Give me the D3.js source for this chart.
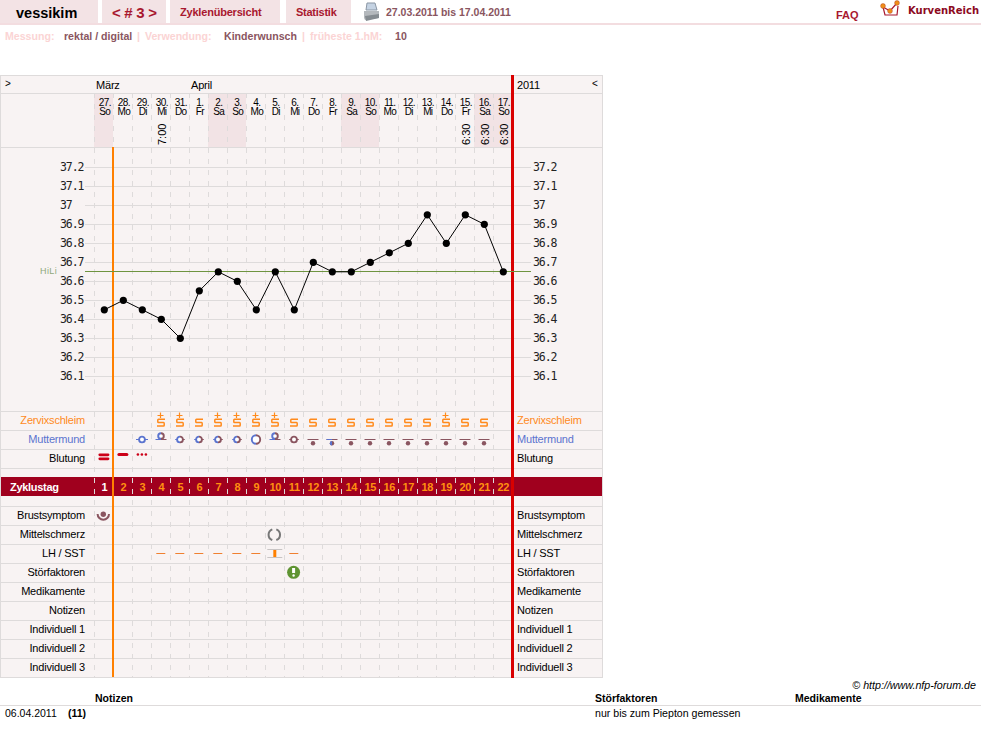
<!DOCTYPE html>
<html><head><meta charset="utf-8">
<script src="https://cdn.jsdelivr.net/npm/d3@7/dist/d3.min.js"></script>
<style>html,body{margin:0;padding:0;background:#fff}svg{display:block}text{font-family:"Liberation Sans",Arial,sans-serif}</style>
</head><body><div id="chart"></div>
<script>
// Cycle data: one entry per calendar day
const dayNumbers=["27.","28.","29.","30.","31.","1.","2.","3.","4.","5.","6.","7.","8.","9.","10.","11.","12.","13.","14.","15.","16.","17."];
const weekdays=["So","Mo","Di","Mi","Do","Fr","Sa","So","Mo","Di","Mi","Do","Fr","Sa","So","Mo","Di","Mi","Do","Fr","Sa","So"];
const measureTimes=[null,null,null,"7:00",null,null,null,null,null,null,null,null,null,null,null,null,null,null,null,"6:30","6:30","6:30"];
const temperatures=[36.45,36.5,36.45,36.4,36.3,36.55,36.65,36.6,36.45,36.65,36.45,36.7,36.65,36.65,36.7,36.75,36.8,36.95,36.8,36.95,36.9,36.65];
const tempTicks=[37.2,37.1,37,36.9,36.8,36.7,36.6,36.5,36.4,36.3,36.2,36.1];
const coverLine=36.65;
const cycleDays=d3.range(1,23);
const mucus=[0,0,0,2,2,1,2,2,2,2,1,1,1,1,1,1,1,1,2,1,1,0]; // 1 = S, 2 = S+
const cervix=[null,null,"open","high","low","low","low","low","wide","high","mid","firm","mixed","firm","firm","firm","firm","firm","firm","firm","firm",null];
const bleeding=[3,2,1,...Array(19).fill(0)];
const ovulationTests=[null,null,null,"n","n","n","n","n","n","p","n",...Array(11).fill(null)];
const upperRows=[["Zervixschleim","#ff8a1c"],["Muttermund","#5b74cf"],["Blutung","#000"]];
const lowerRows=["Brustsymptom","Mittelschmerz","LH / SST","Störfaktoren","Medikamente","Notizen","Individuell 1","Individuell 2","Individuell 3"];

const W=981,H=737,cw=19;
const svg=d3.select("#chart").append("svg").attr("width",W).attr("height",H).attr("viewBox",[0,0,W,H]);
const x=d3.scaleBand().domain(d3.range(22)).range([95,513]);
const cx=i=>x(i)+x.bandwidth()/2-0.2;
const y=d3.scaleLinear().domain([36.1,37.2]).range([376.3,167.3]);

const GRID="#dedbdb",BG="#f8f3f3",WE="#f2e3e5",ORANGE="#ff8000",RED="#d90000",BAND="#a0001e";
const text=(p,s,a,b,o={})=>p.append("text").attr("x",a).attr("y",b).text(s)
  .attr("font-size",o.size||11).attr("fill",o.fill||"#000").attr("text-anchor",o.anchor||"start")
  .attr("font-weight",o.weight||null).attr("font-style",o.style||null).attr("letter-spacing",o.ls||null);
const rect=(p,a,b,w,h,f)=>p.append("rect").attr("x",a).attr("y",b).attr("width",w).attr("height",h).attr("fill",f);
const hline=(p,a,b,yy,c,w=1)=>p.append("line").attr("x1",a).attr("x2",b).attr("y1",yy).attr("y2",yy).attr("stroke",c).attr("stroke-width",w);

// Page header
const head=svg.append("g");
[[0,98],[102,64],[170,110],[286,65]].forEach(d=>rect(head,d[0],0,d[1],23,"#f3e3e5"));
rect(head,0,23,W,2,"#f3dde0");
text(head,"vessikim",16,18,{size:14.5,weight:"bold"});
text(head,"< # 3 >",112,18,{size:15,weight:"bold",fill:"#a8182f",ls:-0.3});
text(head,"Zyklenübersicht",180,16,{size:11,weight:"bold",fill:"#a8182f",ls:-0.2});
text(head,"Statistik",296,16,{size:11,weight:"bold",fill:"#a8182f",ls:-0.25});
text(head,"27.03.2011 bis 17.04.2011",386,16,{size:10.5,weight:"bold",fill:"#8a5560"});
text(head,"FAQ",836,18.5,{size:11,weight:"bold",fill:"#a8182f"});
text(head,"KurvenReich",908,14,{size:10,weight:"bold",fill:"#8c0a1e"}).attr("style","font-family:'DejaVu Sans'");
// Printer icon
const pr=head.append("g").attr("transform","translate(364,3)");
pr.append("path").attr("d","M3 0L11 0L13 7L2 7Z").attr("fill","#c5d3e3").attr("stroke","#8b97a5");
pr.append("path").attr("d","M0 8L15 8L15 15L1 17L0 15Z").attr("fill","#b4b8bc");
pr.append("path").attr("d","M1 13L15 11L15 15L2 18Z").attr("fill","#858b90");
// Logo mark
const lg=head.append("g").attr("transform","translate(882,2)");
lg.append("path").attr("d","M1 5L3 13L15 13L16 4M1 5L8 9L15 1").attr("fill","none").attr("stroke","#a8182f").attr("stroke-width",1.2);
[[1,4],[8,9],[15,1]].forEach(d=>lg.append("circle").attr("cx",d[0]).attr("cy",d[1]).attr("r",2.4).attr("fill","#f09018").attr("stroke","#b5452a").attr("stroke-width",.5));

// Settings line
const meta=svg.append("g");
[["Messung:",5,"#fbd4d4"],["rektal / digital",64,"#8a5560"],["|",137,"#fbd4d4"],["Verwendung:",145,"#fbd4d4"],["Kinderwunsch",224,"#8a5560"],["|",302,"#fbd4d4"],["früheste 1.hM:",310,"#fbd4d4"],["10",395,"#8a5560"]]
  .forEach(d=>text(meta,d[0],d[1],40,{size:10.6,weight:"bold",fill:d[2]}));

// Chart panel and weekend shading
const panel=svg.append("g");
rect(panel,0,75,603,603,BG);
dayNumbers.forEach((d,i)=>{ if(weekdays[i]==="Sa"||weekdays[i]==="So") rect(panel,x(i)-1,93,x.bandwidth(),55,WE); });

// Row rules
const rowLines=[93,147.5,411,430,449,468,506,525,544,563,582,601,620,639,658];
const rules=svg.append("g");
rowLines.forEach(v=>hline(rules,0,603,Math.floor(v)+.5,GRID));
tempTicks.forEach(t=>hline(rules,85,531,Math.round(y(t))+.5,GRID));
rules.append("rect").attr("x",.5).attr("y",75.5).attr("width",602).attr("height",602).attr("fill","none").attr("stroke",GRID);

// Cycle-day band
rect(svg,1,477,601,19,BAND);

// Dashed day separators
const seps=svg.append("g");
d3.range(23).forEach(i=>{
  const xx=95+i*cw-.5;
  seps.append("line").attr("x1",xx).attr("x2",xx).attr("y1",93).attr("y2",677)
    .attr("stroke",GRID).attr("stroke-dasharray","5,6");
});

// Month row and corners
const monthRow=svg.append("g");
text(monthRow,">",5,87,{size:10});
text(monthRow,"März",96,89,{size:11,ls:-0.2});
text(monthRow,"April",191,89,{size:11,ls:-0.2});
text(monthRow,"2011",517,89,{size:11,ls:-0.2});
text(monthRow,"<",592,87,{size:10});

// Date headers
const hdr=svg.append("g").selectAll("g").data(dayNumbers).join("g").attr("transform",(d,i)=>`translate(${cx(i)+.5},0)`);
hdr.append("text").attr("y",105.5).attr("text-anchor","middle").attr("font-size",10).attr("letter-spacing",-0.6).text(d=>d);
hdr.append("text").attr("y",115).attr("text-anchor","middle").attr("font-size",10).attr("letter-spacing",-0.6).text((d,i)=>weekdays[i]);
hdr.each(function(d,i){
  if(measureTimes[i]) d3.select(this).append("text").attr("transform","translate(4,145) rotate(-90)").attr("font-size",11).text(measureTimes[i]);
});

// Temperature scale, both sides
const ticks=svg.append("g");
tempTicks.forEach(t=>{
  const s=String(t);
  [60,533].forEach(a=>{
    ticks.append("text").attr("x",a).attr("y",y(t)+4).text(s).attr("font-size",11.5).attr("letter-spacing",-1.1).attr("fill","#222")
      .attr("style","font-family:'DejaVu Sans Mono'");
  });
});

// Vertical cycle markers
const mark=svg.append("g");
rect(mark,112,147,2,530,ORANGE);
rect(mark,511,75,3,603,RED);

// Coverline
hline(svg,85,531,Math.floor(y(coverLine))+.5,"#6f9440");
ticks.append("text").attr("x",40).attr("y",274).text("HiLi").attr("font-size",9).attr("letter-spacing",0.4).attr("fill","#8fa87a");

// Temperature curve
const line=d3.line().x((d,i)=>cx(i)).y(d=>y(d));
svg.append("path").datum(temperatures).attr("d",line).attr("fill","none").attr("stroke","#000").attr("stroke-width",1);
svg.append("g").selectAll("circle").data(temperatures).join("circle")
  .attr("cx",(d,i)=>cx(i)).attr("cy",d=>y(d)).attr("r",3.6).attr("fill","#000");

// Row labels
const labels=svg.append("g");
upperRows.forEach((r,i)=>{
  const yy=424+i*19;
  text(labels,r[0],85,yy,{anchor:"end",fill:r[1],ls:-0.2});
  text(labels,r[0],517,yy,{fill:r[1],ls:-0.2});
});
lowerRows.forEach((r,i)=>{
  const yy=519+i*19;
  text(labels,r,85,yy,{anchor:"end",ls:-0.2});
  text(labels,r,517,yy,{ls:-0.2});
});
text(labels,"Zyklustag",10,491,{size:11,weight:"bold",fill:"#fff",ls:-0.3});
cycleDays.forEach((d,i)=>text(labels,d,cx(i),491,{size:11,weight:"bold",anchor:"middle",fill:i===0?"#fff":"#ff9010",ls:-0.3}));

// Cervical mucus symbols
const sym=svg.append("g");
mucus.forEach((m,i)=>{
  if(!m) return;
  const c=Math.round(cx(i));
  sym.append("path").attr("d",`M${c+4} 419.2H${c-2.5}Q${c-3.2} 419.2 ${c-3.2} 420V421.8Q${c-3.2} 422.6 ${c-2.5} 422.6H${c+2.5}Q${c+3.2} 422.6 ${c+3.2} 423.4V425.2Q${c+3.2} 426 ${c+2.5} 426H${c-4}`)
    .attr("fill","none").attr("stroke","#ff8a1c").attr("stroke-width",1.5);
  if(m===2) sym.append("path").attr("d",`M${c-3.5} 415.5H${c+2.5}M${c-.5} 412.5V418`).attr("stroke","#ff8a1c").attr("stroke-width",1.2);
});

// Cervix symbols
const BLUE="#5b74cf",BROWN="#8a5560";
const ring=(c,cy,r,left,right)=>{
  sym.append("path").attr("d",`M${c} ${cy-r}A${r} ${r} 0 0 0 ${c} ${cy+r}`).attr("fill","#fff").attr("stroke",left).attr("stroke-width",1.9);
  sym.append("path").attr("d",`M${c} ${cy+r}A${r} ${r} 0 0 0 ${c} ${cy-r}`).attr("fill","#fff").attr("stroke",right).attr("stroke-width",1.9);
};
cervix.forEach((k,i)=>{
  if(!k) return;
  const c=Math.round(cx(i)-.3);
  if(k==="open"||k==="low"||k==="mid"){
    const left=k==="mid"?BROWN:BLUE, right=k==="low"?BROWN:left;
    const t=k==="open"?6:4.8;
    hline(sym,c-t,c-2.5,439.5,left);hline(sym,c+2.5,c+t,439.5,right);
    ring(c,439.5,2.9,left,right);
  } else if(k==="wide"){
    ring(c,439.5,4.2,BLUE,BROWN);
  } else if(k==="high"){
    hline(sym,c-5.5,c,439.5,BLUE);hline(sym,c,c+5.5,439.5,BROWN);
    ring(c,436,2.8,BLUE,BROWN);
  } else {
    hline(sym,c-5.5,c+5.5,439.5,BROWN);
    if(k==="mixed") hline(sym,c-5.5,c,439.5,BLUE);
    sym.append("circle").attr("cx",c).attr("cy",443.3).attr("r",2.2).attr("fill",BROWN);
    if(k==="mixed") sym.append("path").attr("d",`M${c} 441.1A2.2 2.2 0 0 0 ${c} 445.5Z`).attr("fill",BLUE);
  }
});

// Bleeding symbols
bleeding.forEach((b,i)=>{
  const c=cx(i)-.4;
  if(b===3){[453.4,457.4].forEach(v=>sym.append("rect").attr("x",c-5.5).attr("y",v).attr("width",11).attr("height",2.8).attr("rx",1.4).attr("fill","#cc0018"));}
  if(b===2){sym.append("rect").attr("x",c-5.5).attr("y",453).attr("width",11).attr("height",3).attr("rx",1.5).attr("fill","#cc0018");}
  if(b===1){[-4,0,4].forEach(o=>sym.append("circle").attr("cx",c+o).attr("cy",454.5).attr("r",1.3).attr("fill","#cc0018"));}
});

// Breast symptom, mittelschmerz, test and disturbance markers
const c0=cx(0)-1;
sym.append("circle").attr("cx",c0).attr("cy",514.3).attr("r",2.7).attr("fill",BROWN);
sym.append("path").attr("d",`M${c0-5.7} 514A5.7 5.7 0 0 0 ${c0+5.7} 514`).attr("fill","none").attr("stroke",BROWN).attr("stroke-width",2);
const c9=cx(9)-1;
sym.append("path").attr("d",`M${c9-2} 529.35A5.7 5.7 0 0 0 ${c9-2} 540.05M${c9+2} 529.35A5.7 5.7 0 0 1 ${c9+2} 540.05`).attr("fill","none").attr("stroke","#777").attr("stroke-width",2);
ovulationTests.forEach((t,i)=>{
  const c=cx(i)-.5;
  if(t==="n") hline(sym,c-4.5,c+4.5,553.5,"#f08030");
  if(t==="p"){
    hline(sym,c-7.5,c+7.5,549.5,"#c8c4c4");hline(sym,c-7.5,c+7.5,557.5,"#c8c4c4");
    rect(sym,c-1.5,550,3,7,ORANGE);
  }
});
const c10=cx(10)-.7;
sym.append("circle").attr("cx",c10).attr("cy",572.3).attr("r",6.5).attr("fill","#5f9432");
rect(sym,c10-1.5,568,3,5,"#fff");
sym.append("circle").attr("cx",c10).attr("cy",575.5).attr("r",1.2).attr("fill","#fff");

// Footer notes table
const foot=svg.append("g");
text(foot,"© http://www.nfp-forum.de",976,689,{size:10.7,anchor:"end",style:"italic"});
text(foot,"Notizen",95,702,{size:10.5,weight:"bold"});
text(foot,"Störfaktoren",595,702,{size:10.5,weight:"bold"});
text(foot,"Medikamente",795,702,{size:10.5,weight:"bold"});
hline(foot,0,981,705.5,GRID);
text(foot,"06.04.2011",5,717,{size:10.5});
text(foot,"(11)",68,717,{size:10.5,weight:"bold"});
text(foot,"nur bis zum Piepton gemessen",595,717,{size:10.6});
</script></body></html>
